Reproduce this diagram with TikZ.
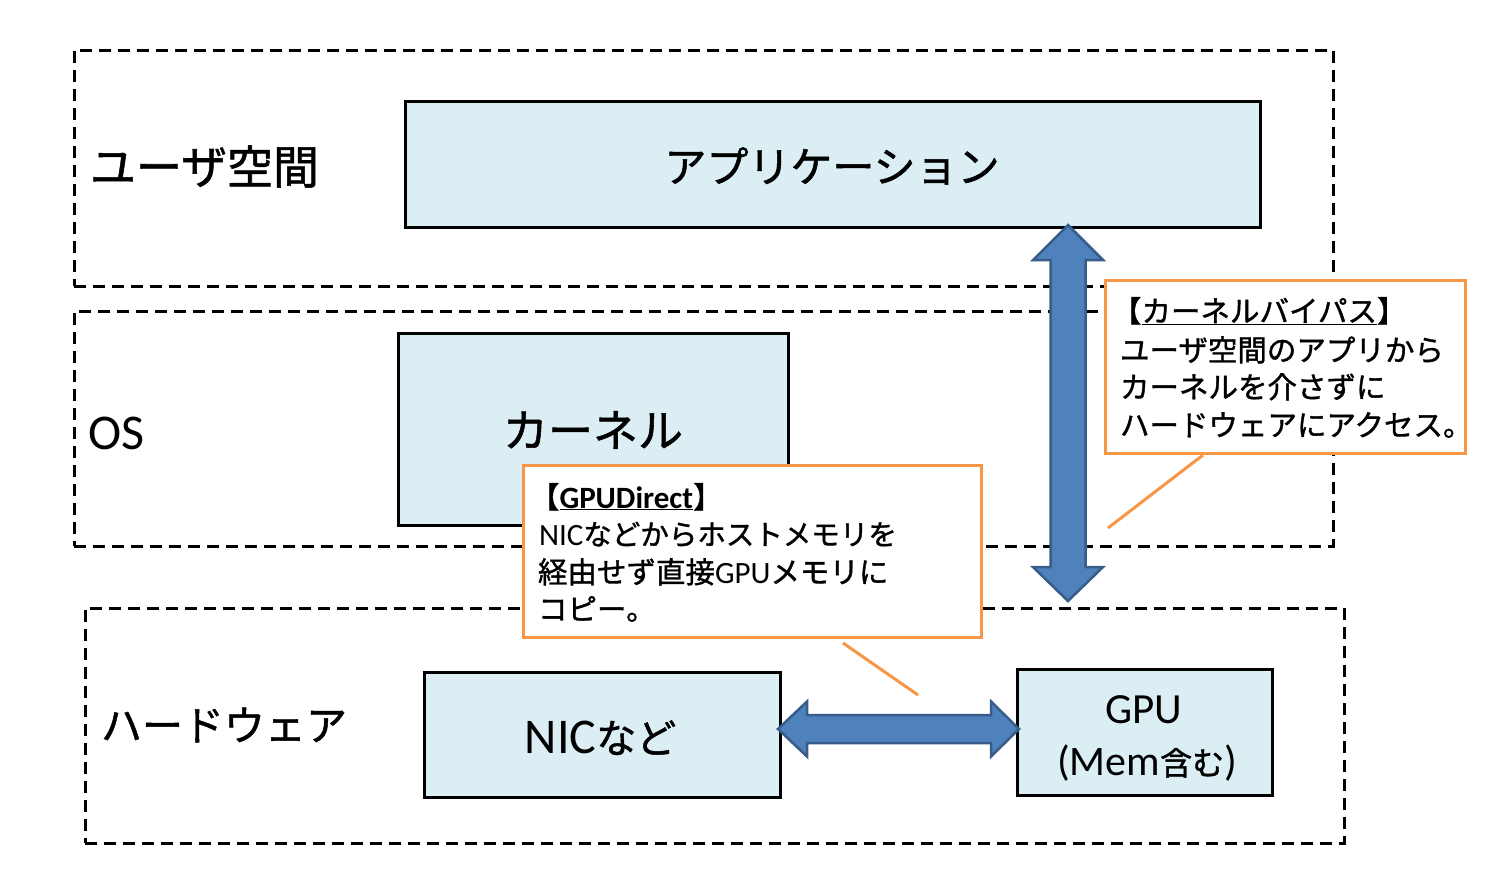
\documentclass[tikz,border=0pt]{standalone}
\usepackage{fontspec}
\usetikzlibrary{calc}
\setmainfont{Noto Sans CJK JP}[FakeBold=1.2]
\newfontfamily\latin{Carlito}
\newcommand\latfont[2]{{\latin\fontsize{#1}{#1}\selectfont #2}}
\newcommand\jpfont[2]{{\fontsize{#1}{#1}\selectfont #2}}
\definecolor{boxfill}{HTML}{DAEEF3}
\definecolor{arrowfill}{HTML}{4F81BD}
\definecolor{arrowline}{HTML}{385D8A}
\definecolor{callorange}{HTML}{F79646}
\begin{document}
\begin{tikzpicture}[x=1pt,y=-1pt,
  layerbox/.style={draw=black, line width=3pt, dash pattern=on 12pt off 7pt, inner sep=0pt},
  bluebox/.style={draw=black, line width=3pt, fill=boxfill, inner sep=0pt},
  callbox/.style={draw=callorange, line width=3pt, fill=white, inner sep=0pt},
  leader/.style={draw=callorange, line width=3pt},
  fatarrow/.style={fill=arrowfill, draw=arrowline, line width=2.5pt, line join=miter},
  txt/.style={inner sep=0pt, outer sep=0pt}
]
\useasboundingbox (0,0) rectangle (1498,894);
\fill[white] (0,0) rectangle (1498,894);

% layers
\node[layerbox, minimum width=1259pt, minimum height=236pt] (user) at (703.5,168) {};
\node[layerbox, minimum width=1259pt, minimum height=235pt] (os) at (703.5,428.5) {};
\node[layerbox, minimum width=1259pt, minimum height=235pt] (hw) at (714.5,725.5) {};

\node[txt, anchor=west] (userlbl) at (90,166.5) {\jpfont{46}{ユーザ空間}};
\node[txt, anchor=west] (oslbl) at (88,433.5) {\latfont{50}{OS}};
\node[txt, anchor=west] (hwlbl) at (101,725) {\jpfont{41}{ハードウェア}};

% boxes
\node[bluebox, minimum width=855pt, minimum height=126pt] (app) at (832.5,164) {};
\node[txt] (applbl) at (832,166) {\jpfont{42}{アプリケーション}};
\node[bluebox, minimum width=390pt, minimum height=192pt] (kernel) at (593,429) {};
\node[txt] (kernellbl) at (593,430) {\jpfont{45}{カーネル}};
\node[bluebox, minimum width=356pt, minimum height=125pt] (nic) at (602,734.5) {};
\node[txt, anchor=base] (niclbl) at (600.5,753) {\latfont{50}{NIC}\jpfont{40}{など}};
\node[bluebox, minimum width=255pt, minimum height=126pt] (gpu) at (1144.5,732) {};
\node[txt, anchor=base] (gpulbl) at (1144,723) {\latfont{43}{GPU}};
\node[txt, anchor=base] (memlbl) at (1147,775) {\latfont{42}{(Mem}\jpfont{32}{含む}\latfont{42}{)}};

% vertical double arrow (application <-> hardware)
\coordinate (vtop) at (1068,225);
\coordinate (vbot) at (1068,601);
\path[fatarrow] (vtop) -- ++(35,35) -- ++(-17.5,0) -- ($(vbot)+(17.5,-34)$) -- ++(17.5,0) -- (vbot)
  -- ++(-35,-34) -- ++(17.5,0) -- ($(vtop)+(-17.5,35)$) -- ++(-17.5,0) -- cycle;

% horizontal double arrow (NIC <-> GPU)
\coordinate (hl) at (778,729);
\coordinate (hr) at (1019,729);
\path[fatarrow] (hl) -- ++(29,-27.5) -- ++(0,13.5) -- ($(hr)+(-28,-14)$) -- ++(0,-13.5) -- (hr)
  -- ++(-28,27.5) -- ++(0,-13.5) -- ($(hl)+(29,14)$) -- ++(0,13.5) -- cycle;

% callout leaders
\coordinate (c1a) at (1203,455);
\coordinate (c1b) at (1108,528);
\draw[leader] (c1a) -- (c1b);
\coordinate (c2a) at (843,643);
\coordinate (c2b) at (918,695);
\draw[leader] (c2a) -- (c2b);

% callout 1
\node[callbox, minimum width=360pt, minimum height=173pt] (call1) at (1285,366.5) {};
\node[txt, anchor=base west] (c1l1) at (1112,322) {\jpfont{29.5}{【\underline{カーネルバイパス}】}};
\node[txt, anchor=base west] (c1l2) at (1120,361) {\jpfont{29.5}{ユーザ空間のアプリから}};
\node[txt, anchor=base west] (c1l3) at (1120,398) {\jpfont{29.5}{カーネルを介さずに}};
\node[txt, anchor=base west] (c1l4) at (1120,436) {\jpfont{29.5}{ハードウェアにアクセス。}};

% callout 2
\node[callbox, minimum width=458pt, minimum height=172pt] (call2) at (752,551) {};
\node[txt, anchor=base west] (c2l1) at (530,508) {\jpfont{29.5}{【}\underline{\latfont{31}{\bfseries GPUDirect}}\jpfont{29.5}{】}};
\node[txt, anchor=base west] (c2l2) at (539,545) {\latfont{31}{NIC}\jpfont{28.5}{などからホストメモリを}};
\node[txt, anchor=base west] (c2l3) at (538,583) {\jpfont{29.5}{経由せず直接}\latfont{31}{GPU}\jpfont{29.5}{メモリに}};
\node[txt, anchor=base west] (c2l4) at (538,620) {\jpfont{29.5}{コピー。}};
\end{tikzpicture}
\end{document}
